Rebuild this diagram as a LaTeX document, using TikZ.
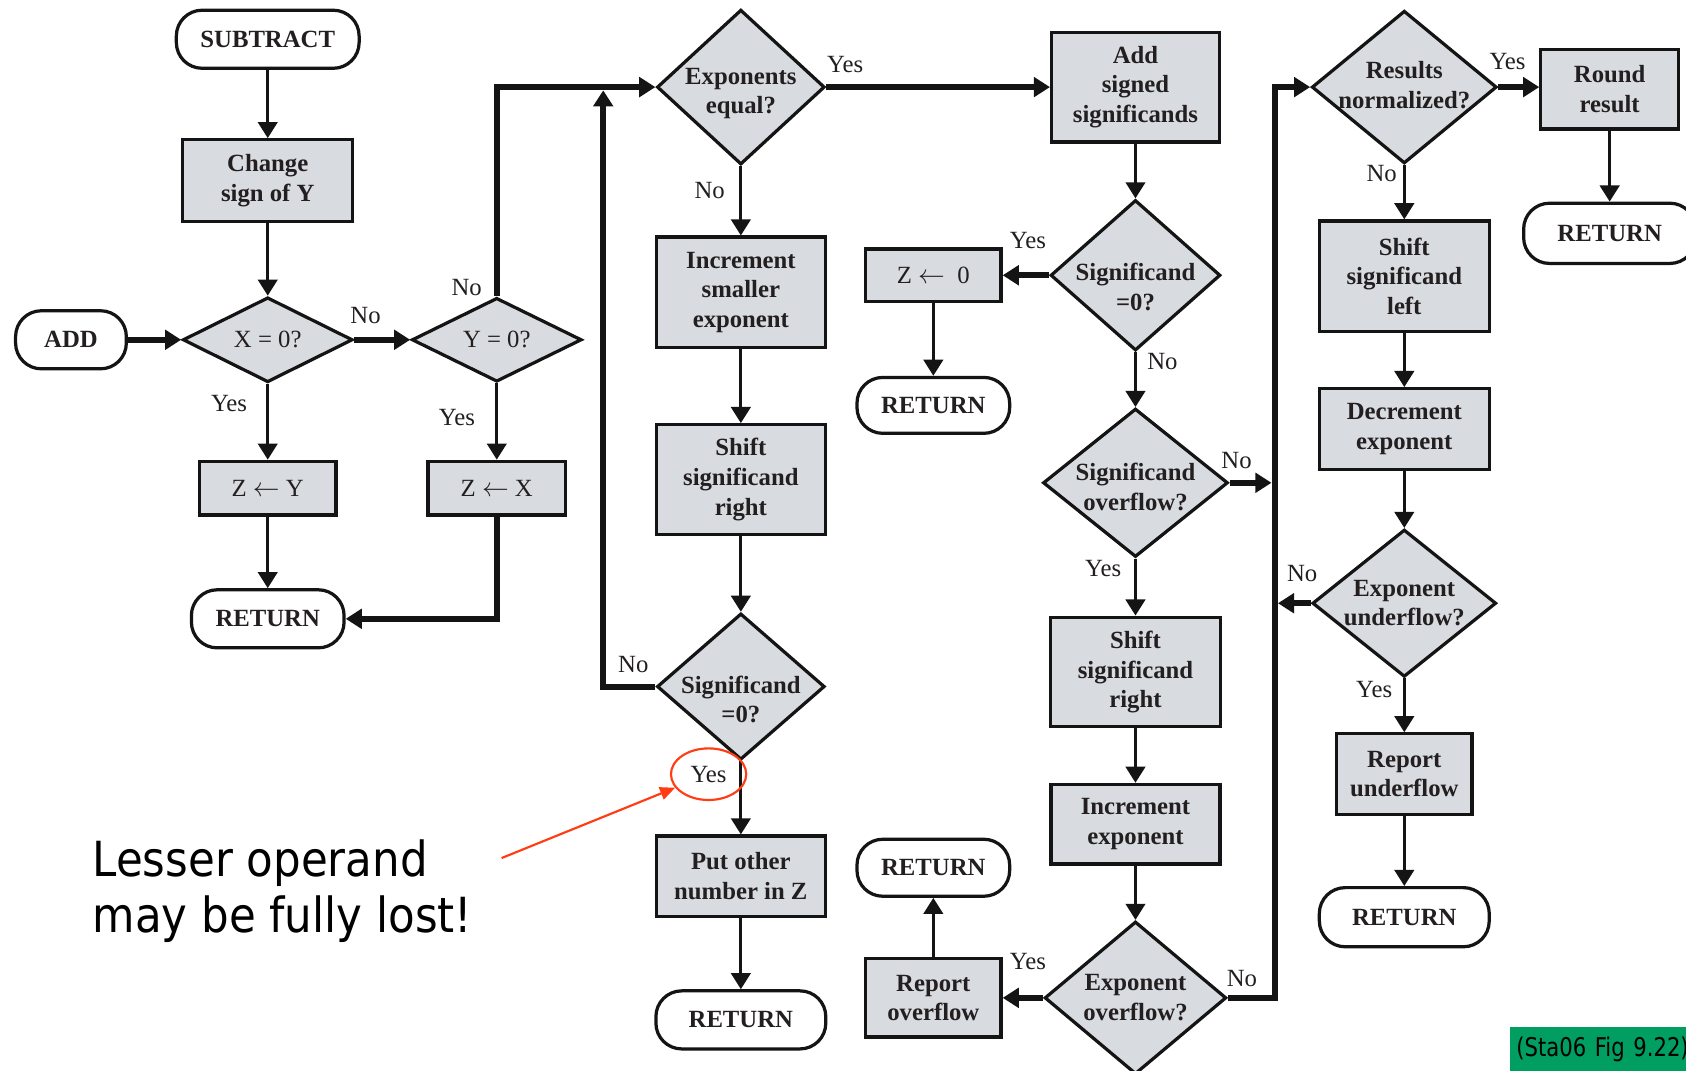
\documentclass[tikz,border=0pt]{standalone}
\usepackage{fontspec}
\setmainfont{Liberation Serif}
\newfontfamily\fcNoteFont[FakeStretch=0.9]{DejaVu Sans}
\newfontfamily\fcTagFont[FakeStretch=0.82]{DejaVu Sans}
\usetikzlibrary{arrows.meta,shapes.geometric}
\definecolor{ink}{RGB}{20,20,20}
\definecolor{txt}{RGB}{35,31,32}
\definecolor{boxfill}{RGB}{216,219,223}
\definecolor{notered}{RGB}{255,60,20}
\definecolor{tagreen}{RGB}{0,158,96}
\newcommand\fcBoxFont{\fontsize{23}{27.5}\selectfont\bfseries}
\newcommand\fcLblFont{\fontsize{23}{27.5}\selectfont}

\begin{document}
\begin{tikzpicture}[x=1pt,y=-1pt,
  proc/.style={rectangle, draw=ink, fill=boxfill, line width=3pt, inner sep=0pt,
    align=center, font=\fcBoxFont, text=txt},
  procr/.style={proc, font=\fcLblFont},
  term/.style={rectangle, rounded corners=24pt, draw=ink, fill=white, line width=3pt,
    inner sep=0pt, align=center, font=\fcBoxFont, text=txt},
  dec/.style={diamond, draw=ink, fill=boxfill, line width=3pt, inner sep=0pt},
  dtext/.style={align=center, font=\fcBoxFont, text=txt, inner sep=0pt},
  dtextr/.style={dtext, font=\fcLblFont},
  lbl/.style={font=\fcLblFont, text=txt, inner sep=0pt},
  conn/.style={draw=ink, line width=3pt, -{Triangle[length=15pt,width=18pt]}},
  bus/.style={conn, line width=5.5pt},
  notearrow/.style={draw=notered, line width=2pt, -{Triangle[length=14pt,width=12pt]}},
]
\useasboundingbox (0,0) rectangle (1568,996);
\clip (0,0) rectangle (1568,996);
\fill[white] (0,0) rectangle (1568,996);

% ---- entry points and zero tests
\node[term, minimum width=170pt, minimum height=54pt] (sub) at (249,36.5) {SUBTRACT};
\node[proc, minimum width=158pt, minimum height=76pt] (chg) at (249,168) {Change\\sign of Y};
\node[dec, minimum width=158pt, minimum height=79pt, label={[dtextr]center:{X = 0?}}] (x0) at (249,316) {};
\node[term, minimum width=103pt, minimum height=54pt] (add) at (66,316) {ADD};
\node[procr, minimum width=127pt, minimum height=50pt] (zy) at (249,454) {Z $\leftarrow$ Y};
\node[term, minimum width=142pt, minimum height=54pt] (ret1) at (249,575.5) {RETURN};
\node[dec, minimum width=158pt, minimum height=78pt, label={[dtextr]center:{Y = 0?}}] (y0) at (462,316) {};
\node[procr, minimum width=128pt, minimum height=50pt] (zx) at (462,454) {Z $\leftarrow$ X};

% ---- exponent alignment
\node[dec, minimum width=156pt, minimum height=144pt, label={[dtext, yshift=-6pt]center:{Exponents\\equal?}}] (expeq) at (689,81) {};
\node[proc, minimum width=157pt, minimum height=103pt] (incsm) at (689,272) {Increment\\smaller\\exponent};
\node[proc, minimum width=157pt, minimum height=102pt] (shr1) at (689,446) {Shift\\significand\\right};
\node[dec, minimum width=156pt, minimum height=136pt, label={[dtext, yshift=-12pt]center:{Significand\\=0?}}] (sz1) at (689,638.5) {};
\node[proc, minimum width=157pt, minimum height=75pt] (put) at (689,815) {Put other\\number in Z};
\node[term, minimum width=158pt, minimum height=54pt] (ret2) at (689,948.5) {RETURN};

% ---- addition and overflow handling
\node[proc, minimum width=156pt, minimum height=102pt] (addsig) at (1056,81) {Add\\signed\\significands};
\node[dec, minimum width=158pt, minimum height=140pt, label={[dtext, yshift=-11pt]center:{Significand\\=0?}}] (sz2) at (1056,256) {};
\node[procr, minimum width=126pt, minimum height=49pt] (z0) at (868,256) {Z $\leftarrow$\ \ 0};
\node[term, minimum width=142pt, minimum height=52pt] (ret4) at (868,377) {RETURN};
\node[dec, minimum width=172pt, minimum height=138pt, label={[dtext, yshift=-4pt]center:{Significand\\overflow?}}] (sovf) at (1056,449) {};
\node[proc, minimum width=158pt, minimum height=102pt] (shr2) at (1056,625) {Shift\\significand\\right};
\node[proc, minimum width=157pt, minimum height=74pt] (incexp) at (1056,766.5) {Increment\\exponent};
\node[dec, minimum width=169pt, minimum height=142pt, label={[dtext]center:{Exponent\\overflow?}}] (eovf) at (1056,928) {};
\node[proc, minimum width=126pt, minimum height=73pt] (repovf) at (868,928) {Report\\overflow};
\node[term, minimum width=142pt, minimum height=53pt] (ret3) at (868,807) {RETURN};

% ---- normalization
\node[dec, minimum width=172pt, minimum height=142pt, label={[dtext, yshift=2pt]center:{Results\\normalized?}}] (resnorm) at (1306,81) {};
\node[proc, minimum width=128pt, minimum height=74pt] (round) at (1497,83) {Round\\result};
\node[term, minimum width=160pt, minimum height=56pt] (ret5a) at (1497,217) {RETURN};
\node[proc, minimum width=158pt, minimum height=103pt] (shl) at (1306,257) {Shift\\significand\\left};
\node[proc, minimum width=158pt, minimum height=75pt] (decexp) at (1306,399) {Decrement\\exponent};
\node[dec, minimum width=171pt, minimum height=137pt, label={[dtext]center:{Exponent\\underflow?}}] (eunf) at (1306,561) {};
\node[proc, minimum width=126pt, minimum height=75pt] (repunf) at (1306,720) {Report\\underflow};
\node[term, minimum width=158pt, minimum height=55pt] (ret5b) at (1306,853) {RETURN};

% ---- branch labels
\node[lbl] (lx0no) at (340,293) {No};
\node[lbl] (lx0yes) at (213,375) {Yes};
\node[lbl] (ly0no) at (434,267) {No};
\node[lbl] (ly0yes) at (425,388) {Yes};
\node[lbl] (leqyes) at (786,60) {Yes};
\node[lbl] (leqno) at (660,177) {No};
\node[lbl] (lsz1no) at (589,618) {No};
\node[lbl] (lsz1yes) at (659,720) {Yes};
\node[lbl] (lsz2yes) at (956,224) {Yes};
\node[lbl] (lsz2no) at (1081,336) {No};
\node[lbl] (lsovfno) at (1150,428) {No};
\node[lbl] (lsovfyes) at (1026,529) {Yes};
\node[lbl] (leovfyes) at (956,894) {Yes};
\node[lbl] (leovfno) at (1155,910) {No};
\node[lbl] (lnormyes) at (1402,57) {Yes};
\node[lbl] (lnormno) at (1285,161) {No};
\node[lbl] (leunfno) at (1211,533) {No};
\node[lbl] (leunfyes) at (1278,641) {Yes};

% ---- connectors
\draw[conn] (sub) -- (chg);
\draw[conn] (chg) -- (x0);
\draw[bus] (add) -- (x0);
\draw[bus] (x0) -- (y0);
\draw[conn] (x0) -- (zy);
\draw[conn] (zy) -- (ret1);
\draw[conn] (y0) -- (zx);
\draw[bus] (zx.south) |- (ret1.east);
\draw[bus] (y0.north) |- (expeq.west);

\draw[bus] (expeq) -- (addsig);
\draw[conn] (expeq) -- (incsm);
\draw[conn] (incsm) -- (shr1);
\draw[conn] (shr1) -- (sz1);
\draw[conn] (sz1) -- (put);
\draw[conn] (put) -- (ret2);
\coordinate (loopTop) at (561,84);
\draw[bus] (sz1.west) -| (loopTop);

\draw[conn] (addsig) -- (sz2);
\draw[bus] (sz2) -- (z0);
\draw[conn] (z0) -- (ret4);
\draw[conn] (sz2) -- (sovf);
\coordinate (busInL) at (1182.5,449);
\draw[bus] (sovf.east) -- (busInL);
\draw[conn] (sovf) -- (shr2);
\draw[conn] (shr2) -- (incexp);
\draw[conn] (incexp) -- (eovf);
\draw[bus] (eovf) -- (repovf);
\draw[conn] (repovf) -- (ret3);
\coordinate (busTop) at (1185.5,81);
\draw[bus] (eovf.east) -| (busTop) -- (resnorm.west);

\draw[bus] (resnorm.east) -- (resnorm.east -| round.west);
\draw[conn] (round) -- (ret5a);
\draw[conn] (resnorm) -- (shl);
\draw[conn] (shl) -- (decexp);
\draw[conn] (decexp) -- (eunf);
\coordinate (busInR) at (1188.5,561);
\draw[bus] (eunf.west) -- (busInR);
\draw[conn] (eunf) -- (repunf);
\draw[conn] (repunf) -- (ret5b);

% ---- annotation
\node[draw=notered, line width=2pt, ellipse, minimum width=70pt, minimum height=48pt, inner sep=0pt] (ring) at (659,720) {};
\node[font=\fcNoteFont\fontsize{45}{52}\selectfont, anchor=base west, align=left, inner sep=0pt] (note) at (86,867) {Lesser operand\\may be fully lost!};
\coordinate (noteTail) at (466.5,798);
\draw[notearrow] (noteTail) -- (ring);

% ---- source tag
\node[fill=tagreen, anchor=north west, minimum height=42pt, text width=200pt, inner xsep=6pt, inner ysep=0pt,
  font=\fcTagFont\fontsize{24}{28}\selectfont, text=black] (tag) at (1404,955) {(Sta06 Fig 9.22)};
\end{tikzpicture}
\end{document}
